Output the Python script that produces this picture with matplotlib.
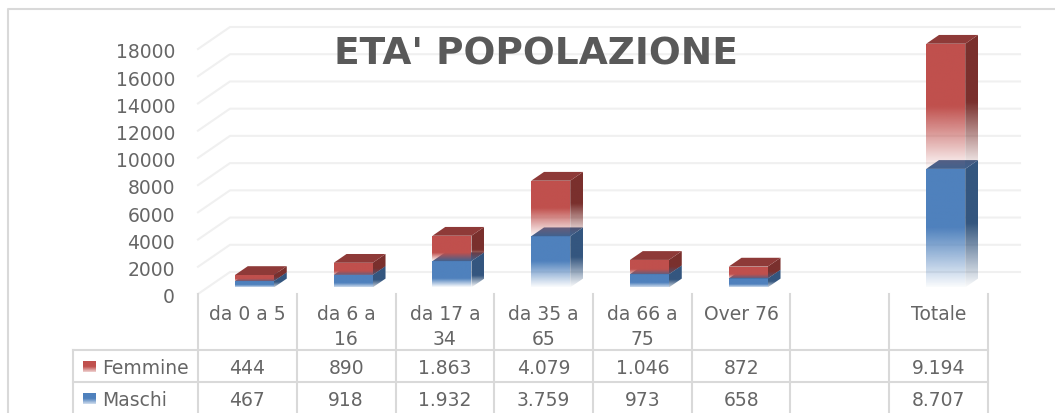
import numpy as np
import matplotlib
matplotlib.use("Agg")
import matplotlib.pyplot as plt
from matplotlib.colors import to_rgb
from matplotlib.patches import Polygon

categories = ["da 0 a 5", "da 6 a\n16", "da 17 a\n34", "da 35 a\n65", "da 66 a\n75", "Over 76", "", "Totale"]
femmine = [444, 890, 1863, 4079, 1046, 872, None, 9194]
maschi = [467, 918, 1932, 3759, 973, 658, None, 8707]
femmine_labels = ["444", "890", "1.863", "4.079", "1.046", "872", "", "9.194"]
maschi_labels = ["467", "918", "1.932", "3.759", "973", "658", "", "8.707"]
y_ticks = [0, 2000, 4000, 6000, 8000, 10000, 12000, 14000, 16000, 18000]

W, H = 1055, 414
RED = ("#C0504D", "#8E3A38", "#7A302D")
BLUE = ("#4F81BD", "#3F628F", "#34567F")
TEXT = "#666666"
GRID = "#F0F0F0"
LINE = "#D9D9D9"
YMAX = 18000 * 285 / 245  # axes run up to the frame, so tall columns are not cut

plt.rcParams["font.family"] = ["DejaVu Sans"]
fig = plt.figure(figsize=(W / 100, H / 100), dpi=100)


def px_axes(left, top, right, bottom):
    return fig.add_axes([left / W, 1 - bottom / H, (right - left) / W, (bottom - top) / H])


# left and top border of the chart area
fig.add_artist(plt.Line2D([8 / W, 8 / W, 1], [0, 1 - 10 / H, 1 - 10 / H], color=LINE, lw=1.5))

ax = px_axes(198, 10, 988, 295)
ax.set_xlim(-0.5, 7.5)
ax.set_ylim(0, YMAX)
ax.axis("off")

# depth of the fake 3d wall, in data units
DX = 32 / 98.75
DY = 22 / 245 * 18000


def project(x, v, d):
    return x + d * DX, v + d * DY


for t in y_ticks:
    xs, ys = zip(project(-0.5, t, 0), project(-0.5, t, 1), project(7.5, t, 1))
    ax.plot(xs, ys, color=GRID, lw=1.5, clip_on=False, zorder=1)
    ax.annotate(str(t), (-0.5 - 23 / 98.75, t), xytext=(0, -2), textcoords="offset points",
                ha="right", va="center", color=TEXT, fontsize=13.5, annotation_clip=False)

BAR_D0, BAR_D1 = 0.3, 0.7
BAR_W = 39 / 98.75
SHIFT = -2.5 / 98.75


def fade(color, solid, low, n=200):
    # pale at the foot of the column, full colour above the fade zone
    rgb = np.array(to_rgb(color))
    t = np.linspace(0, 1, n)
    a = np.clip(t / (1 - solid), 0, 1) * (1 - low) + low
    img = np.ones((n, 1, 4))
    img[:, 0, :3] = rgb
    img[:, 0, 3] = a
    return img


def face(pts, color, solid, low, z):
    p = Polygon(pts, closed=True, transform=ax.transData, fc="none", ec="none")
    ax.add_patch(p)
    xs = [q[0] for q in pts]
    ys = [q[1] for q in pts]
    im = ax.imshow(fade(color, solid, low), origin="lower", aspect="auto", interpolation="bilinear",
                   extent=(min(xs), max(xs), min(ys), max(ys)), zorder=z)
    im.set_clip_path(p)


def column(i, base, h, cols, z):
    x0 = i - BAR_W / 2 + SHIFT
    x1 = i + BAR_W / 2 + SHIFT
    top = base + h
    # short columns show only a thin fade at the foot
    solid = 0.5 if h > 3000 else 0.68
    low = 0.03 if h > 1500 else 0.3
    face([project(x1, base, BAR_D0), project(x1, base, BAR_D1),
          project(x1, top, BAR_D1), project(x1, top, BAR_D0)], cols[2], solid, low, z)
    face([project(x0, base, BAR_D0), project(x1, base, BAR_D0),
          project(x1, top, BAR_D0), project(x0, top, BAR_D0)], cols[0], solid, low, z + 0.1)
    ax.add_patch(Polygon([project(x0, top, BAR_D0), project(x1, top, BAR_D0),
                          project(x1, top, BAR_D1), project(x0, top, BAR_D1)],
                         closed=True, fc=cols[1], ec="none", zorder=z + 0.2))


for i in range(len(categories)):
    if maschi[i] is None:
        continue
    # blue goes first: the red foot fades over the blue top face
    column(i, 0, maschi[i], BLUE, 3)
    column(i, maschi[i], femmine[i], RED, 4)

ax.set_xlim(-0.5, 7.5)
ax.set_ylim(0, YMAX)

fig.text(536 / W, 1 - 54.5 / H, "ETA' POPOLAZIONE", ha="center", va="center", color="#595959",
         fontsize=27, fontweight="bold")

# data table under the chart
tab = px_axes(198, 295, 988, 414)
tab.set_xlim(-0.5, 7.5)
tab.set_ylim(414, 295)
tab.axis("off")
x_left = -0.5 - 125 / 98.75

for k in range(len(categories) + 1):
    tab.plot([k - 0.5, k - 0.5], [295, 414], color=LINE, lw=1.5, clip_on=False)
tab.plot([x_left, x_left], [351, 414], color=LINE, lw=1.5, clip_on=False)
for y in (351, 383):
    tab.plot([x_left, 7.5], [y, y], color=LINE, lw=1.5, clip_on=False)

for i, c in enumerate(categories):
    tab.text(i, 305, c, ha="center", va="top", color=TEXT, fontsize=13.5, linespacing=1.42)
    tab.text(i, 369, femmine_labels[i], ha="center", va="center", color=TEXT, fontsize=13.5)
    tab.text(i, 401, maschi_labels[i], ha="center", va="center", color=TEXT, fontsize=13.5)

# legend keys live in the first column
for name, y, col in (("Femmine", 367, RED[0]), ("Maschi", 399, BLUE[0])):
    tab.imshow(fade(col, 0.5, 0.25), origin="lower", aspect="auto", interpolation="bilinear",
               extent=(-0.5 - 115 / 98.75, -0.5 - 102 / 98.75, y + 5.5, y - 5.5), clip_on=False)
    tab.text(-0.5 - 96 / 98.75, y + 2, name, ha="left", va="center", color=TEXT, fontsize=13.5, clip_on=False)

tab.set_xlim(-0.5, 7.5)
tab.set_ylim(414, 295)

fig.savefig("out.png", dpi=100)
